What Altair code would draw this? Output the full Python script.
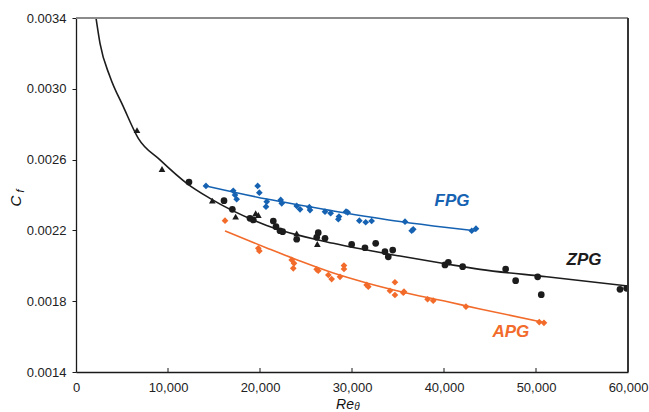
import altair as alt
import pandas as pd

# ---------------- data ----------------
zpg_circle_x = [12281, 16087, 16992, 18912, 19274, 21446, 21737, 22170, 22461, 23990,
                26332, 26161, 27066, 29962, 31410, 32576, 33581, 33943, 34426, 40107,
                40469, 42027, 46702, 47788, 50181, 50573, 59129, 59853]
zpg_circle_y = [0.002473, 0.002368, 0.002319, 0.002268, 0.002259, 0.002253, 0.002221, 0.002198,
                0.002193, 0.002150, 0.002187, 0.002161, 0.002155, 0.002121, 0.002102, 0.002127,
                0.002080, 0.002051, 0.002089, 0.002005, 0.002020, 0.001995, 0.001982, 0.001916,
                0.001938, 0.001837, 0.001867, 0.001873]

zpg_tri_x = [6630, 9347, 14815, 17354, 19530, 19817, 23990, 26232]
zpg_tri_y = [0.002767, 0.002547, 0.002368, 0.002278, 0.002297, 0.002287, 0.002183, 0.002123]

fpg_x = [14126, 17092, 17283, 17464, 19747, 19928, 20732, 20652, 22250, 22361,
         23990, 24352, 25367, 25437, 27066, 27679, 28584, 28514, 29349, 29529,
         30796, 31490, 32134, 35763, 36658, 36487, 43012, 43475]
fpg_y = [0.002451, 0.002424, 0.002400, 0.002376, 0.002451, 0.002413, 0.002362, 0.002334,
         0.002372, 0.002353, 0.002338, 0.002319, 0.002331, 0.002315, 0.002306, 0.002297,
         0.002278, 0.002263, 0.002306, 0.002302, 0.002255, 0.002246, 0.002253, 0.002249,
         0.002206, 0.002198, 0.002198, 0.002210]

apg_x = [16197, 19817, 19928, 23447, 23698, 23618, 26161, 26332, 27428, 27790,
         28695, 29127, 29127, 31591, 31772, 34124, 34667, 34667, 35572, 35653,
         38216, 38830, 42389, 50352, 50865]
apg_y = [0.002255, 0.002099, 0.002084, 0.002033, 0.002014, 0.001986, 0.001980, 0.001972,
         0.001948, 0.001925, 0.001938, 0.002001, 0.001982, 0.001892, 0.001882, 0.001859,
         0.001907, 0.001835, 0.001848, 0.001854, 0.001811, 0.001803, 0.001769, 0.001682,
         0.001678]

# fitted curves
zpg_curve_x = [2174, 2609, 3696, 5142, 6772, 9130, 12033, 14565, 20728, 27967,
               35217, 40294, 43913, 51162, 60000]
zpg_curve_y = [0.003400, 0.003257, 0.003068, 0.002899, 0.002720, 0.002598, 0.002466,
               0.002381, 0.002228, 0.002127, 0.002055, 0.002010, 0.001980, 0.001938, 0.001886]
fpg_curve_x = [14130, 20728, 27967, 35217, 40294, 43478]
fpg_curve_y = [0.002451, 0.002377, 0.002310, 0.002250, 0.002216, 0.002197]
apg_curve_x = [16195, 20728, 24347, 27967, 31598, 35217, 40294, 43913, 50869]
apg_curve_y = [0.002197, 0.002101, 0.002027, 0.001959, 0.001903, 0.001855, 0.001798,
               0.001756, 0.001680]

series_names = ["FPG", "ZPG", "APG"]
series_colors = ["#1662B2", "#1c1c1c", "#F26B2B"]
label_x = [40871, 55218, 47275]
label_y = [0.002366, 0.002033, 0.001626]

x_ticks = [0, 10000, 20000, 30000, 40000, 50000, 60000]
y_ticks = [0.0014, 0.0018, 0.0022, 0.0026, 0.0030, 0.0034]

# ---------------- tables ----------------
pts = pd.concat([
    pd.DataFrame({"x": zpg_circle_x, "y": zpg_circle_y, "series": "ZPG", "marker": "circle"}),
    pd.DataFrame({"x": zpg_tri_x, "y": zpg_tri_y, "series": "ZPG", "marker": "triangle"}),
    pd.DataFrame({"x": fpg_x, "y": fpg_y, "series": "FPG", "marker": "diamond"}),
    pd.DataFrame({"x": apg_x, "y": apg_y, "series": "APG", "marker": "diamond"}),
], ignore_index=True)

curves = pd.concat([
    pd.DataFrame({"x": zpg_curve_x, "y": zpg_curve_y, "series": "ZPG"}),
    pd.DataFrame({"x": fpg_curve_x, "y": fpg_curve_y, "series": "FPG"}),
    pd.DataFrame({"x": apg_curve_x, "y": apg_curve_y, "series": "APG"}),
], ignore_index=True)

labels = pd.DataFrame({"x": label_x, "y": label_y, "series": series_names})
ticks_df = pd.DataFrame({"x": x_ticks[1:-1]})

W, H = 552, 354
FONT = "Liberation Sans"

xscale = alt.Scale(domain=[0, 60000], nice=False, zero=False)
yscale = alt.Scale(domain=[0.0014, 0.0034], nice=False, zero=False)
cscale = alt.Scale(domain=series_names, range=series_colors)

xenc = alt.X("x:Q", scale=xscale,
             axis=alt.Axis(values=x_ticks, format=",d", title=None, grid=False, ticks=False,
                           tickSize=0, labelPadding=9, labelFlush=False,
                           domainColor="#1a1a1a", domainWidth=1.3,
                           labelFont=FONT, labelFontSize=13, labelColor="#222222"))
yenc = alt.Y("y:Q", scale=yscale,
             axis=alt.Axis(values=y_ticks, format=".4f", title=None, grid=False, ticks=True,
                           tickSize=4, tickColor="#1a1a1a", labelPadding=6, labelFlush=False,
                           domainColor="#1a1a1a", domainWidth=1.3,
                           labelFont=FONT, labelFontSize=13, labelColor="#222222"))

lines = alt.Chart(curves).mark_line(strokeWidth=1.6, clip=True, interpolate="monotone").encode(
    x=xenc, y=yenc,
    color=alt.Color("series:N", scale=cscale, legend=None),
    order="x:Q",
)

points = alt.Chart(pts).mark_point(filled=True, opacity=1, size=45, clip=True).encode(
    x=alt.X("x:Q", scale=xscale),
    y=alt.Y("y:Q", scale=yscale),
    color=alt.Color("series:N", scale=cscale, legend=None),
    shape=alt.Shape("marker:N", scale=alt.Scale(domain=["circle", "triangle", "diamond"],
                                                range=["circle", "triangle-up", "diamond"]),
                    legend=None),
)

texts = alt.Chart(labels).mark_text(font=FONT, fontSize=17, fontWeight="bold",
                                    fontStyle="italic").encode(
    x=alt.X("x:Q", scale=xscale),
    y=alt.Y("y:Q", scale=yscale),
    text="series:N",
    color=alt.Color("series:N", scale=cscale, legend=None),
)

inner_ticks = alt.Chart(ticks_df).mark_rule(color="#1a1a1a", strokeWidth=1).encode(
    x=alt.X("x:Q", scale=xscale),
    y=alt.value(H),
    y2=alt.value(H - 4),
)

top_border = alt.Chart(labels).mark_rule(color="#8a8a8a", strokeWidth=1.6).encode(
    x=alt.value(0), x2=alt.value(W), y=alt.value(0)
)
right_border = alt.Chart(labels).mark_rule(color="#333333", strokeWidth=1.5).encode(
    x=alt.value(W), y=alt.value(0), y2=alt.value(H)
)

y_title_c = alt.Chart(pd.DataFrame({"t": ["C"]})).mark_text(
    font=FONT, fontSize=15, fontStyle="italic", angle=270, color="#111111").encode(
    x=alt.value(-60), y=alt.value(183), text="t:N")
y_title_f = alt.Chart(pd.DataFrame({"t": ["f"]})).mark_text(
    font=FONT, fontSize=11, fontStyle="italic", angle=270, color="#111111").encode(
    x=alt.value(-55), y=alt.value(173), text="t:N")
x_title_re = alt.Chart(pd.DataFrame({"t": ["Re"]})).mark_text(
    font=FONT, fontSize=14, fontStyle="italic", color="#111111", baseline="alphabetic").encode(
    x=alt.value(269), y=alt.value(391), text="t:N")
x_title_th = alt.Chart(pd.DataFrame({"t": ["θ"]})).mark_text(
    font=FONT, fontSize=10, fontStyle="italic", color="#111111", baseline="alphabetic").encode(
    x=alt.value(281), y=alt.value(392), text="t:N")

chart = alt.layer(
    lines, points, texts, inner_ticks, top_border, right_border,
    y_title_c, y_title_f, x_title_re, x_title_th
).properties(
    width=W, height=H,
    autosize=alt.AutoSizeParams(type="none"),
    padding={"left": 76, "top": 18, "right": 21, "bottom": 40},
).configure_view(stroke=None).configure(background="white")

chart.save("out.html", embed_options={"renderer": "svg", "actions": False})
